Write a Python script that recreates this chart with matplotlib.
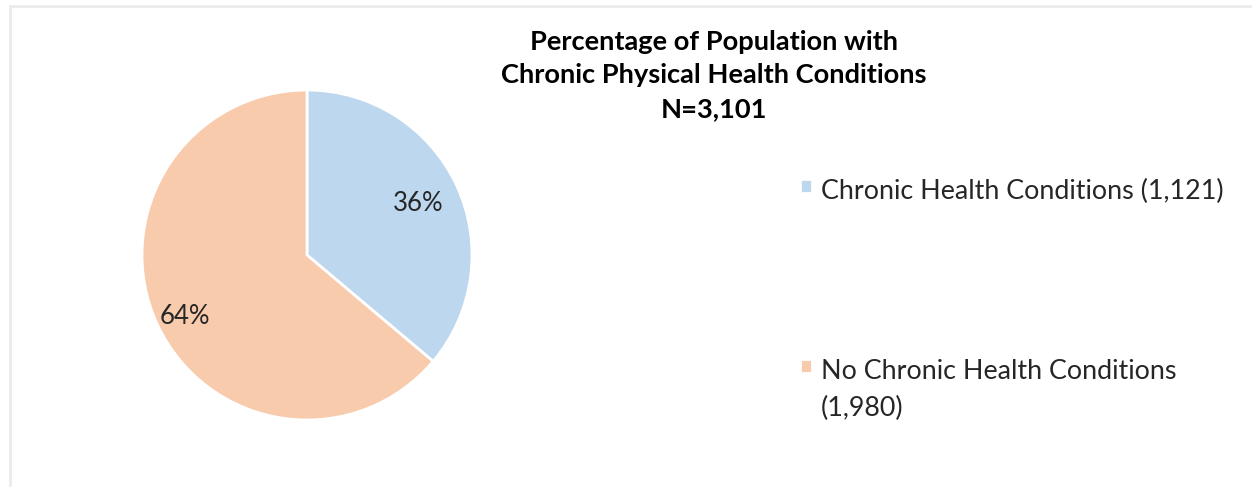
import matplotlib.pyplot as plt
from matplotlib.patches import Rectangle

# data
labels = ["Chronic Health Conditions (1,121)", "No Chronic Health Conditions\n(1,980)"]
counts = [1121, 1980]
colors = ["#BDD7EE", "#F8CBAD"]
title = "Percentage of Population with\nChronic Physical Health Conditions\nN=3,101"

plt.rcParams['font.family'] = ['Lato', 'DejaVu Sans']

W, H = 1252, 487
fig = plt.figure(figsize=(W / 100, H / 100), dpi=100)

# light grey chart frame (cut off at right/bottom)
fig.patches.append(Rectangle((9.5 / W, -0.1), 1.2, 1 - 5.5 / H + 0.1, transform=fig.transFigure,
                             fill=False, edgecolor="#EBEBEB", linewidth=2))

cx, cy, r = 307, 255, 165
ax = fig.add_axes([(cx - r) / W, (H - cy - r) / H, 2 * r / W, 2 * r / H])
wedges, texts, autotexts = ax.pie(counts, colors=colors, startangle=90, counterclock=False,
                                  autopct=lambda p: f"{p:.0f}%", pctdistance=0.74,
                                  wedgeprops=dict(edgecolor="white", linewidth=2),
                                  textprops=dict(fontsize=18.5, color="#262626"))
x, y = autotexts[1].get_position()
autotexts[1].set_position((x * 1.1, y * 1.2))
ax.set_xlim(-1, 1)
ax.set_ylim(-1, 1)

fig.text(714 / W, 1 - 30 / H, title, ha="center", va="top", fontsize=19.6, fontweight="bold",
         color="#000000", linespacing=1.47, multialignment="center")

leg = fig.legend(wedges, labels, loc="upper left", bbox_to_anchor=(776 / W, 1 - 155 / H),
                 frameon=False, fontsize=19.4, handlelength=0.42, handleheight=0.42,
                 handletextpad=0.35, labelspacing=5.75, labelcolor="#262626")
for t in leg.texts:
    t.set_linespacing(1.58)
for col in leg._legend_handle_box.get_children():
    for item in col.get_children():
        item.align = "top"

fig.savefig("out.png", dpi=100)
